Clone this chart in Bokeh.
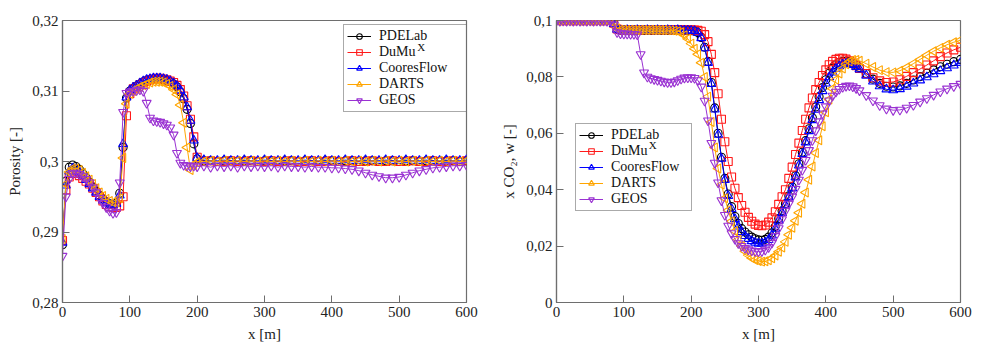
import math
from bokeh.plotting import figure
from bokeh.layouts import row
from bokeh.models import (Range1d, FixedTicker, CustomJSTickFormatter, Legend,
                          LegendItem, Label)
from bokeh.embed import file_html
from bokeh.resources import INLINE

# ---------------------------------------------------------------- data
# Porosity along the domain
X_POR = [0, 5, 10, 15, 20, 25, 30, 35, 40, 45, 50, 55, 60, 65, 70, 75, 80, 85, 90, 95,
         100, 105, 110, 115, 120, 125, 130, 135, 140, 145, 150, 155, 160, 165, 170, 175,
         180, 185, 190, 195, 200,
         210, 220, 230, 240, 250, 260, 270, 280, 290, 300, 310, 320, 330, 340, 350, 360,
         370, 380, 390, 400, 410, 420, 430, 440, 450, 460, 470, 480, 490, 500, 510, 520,
         530, 540, 550, 560, 570, 580, 590, 600]

POR_PDELAB = [0.2882, 0.2972, 0.2992, 0.2995, 0.2993, 0.2989, 0.2983, 0.2977, 0.2971, 0.2964,
              0.2958, 0.2952, 0.2947, 0.2943, 0.2940, 0.2939, 0.2941, 0.2955, 0.3020, 0.3090,
              0.3100, 0.3104, 0.3107, 0.3110, 0.3113, 0.3115, 0.3116, 0.3117, 0.3117, 0.3117,
              0.3116, 0.3115, 0.3113, 0.3110, 0.3106, 0.3099, 0.3089, 0.3074, 0.3054, 0.3025,
              0.3004,
              0.3001, 0.3001, 0.3000, 0.3001, 0.3001, 0.3000, 0.3001, 0.3001, 0.3000, 0.3001,
              0.3001, 0.3000, 0.3001, 0.3001, 0.3000, 0.3001, 0.3001, 0.3000, 0.3001, 0.3001,
              0.3000, 0.3001, 0.3001, 0.3000, 0.3001, 0.3001, 0.3000, 0.3001, 0.3001, 0.3000,
              0.3001, 0.3001, 0.3000, 0.3001, 0.3001, 0.3000, 0.3001, 0.3001, 0.3000, 0.3001]

POR_DUMUX = [0.2888, 0.2960, 0.2978, 0.2983, 0.2983, 0.2980, 0.2976, 0.2972, 0.2968, 0.2962,
             0.2956, 0.2950, 0.2944, 0.2939, 0.2936, 0.2935, 0.2935, 0.2937, 0.2950, 0.3065,
             0.3096, 0.3103, 0.3106, 0.3109, 0.3112, 0.3114, 0.3116, 0.3117, 0.3118, 0.3118,
             0.3117, 0.3116, 0.3114, 0.3112, 0.3108, 0.3102, 0.3093, 0.3079, 0.3060, 0.3035,
             0.3006,
             0.3000, 0.3001, 0.3000, 0.3000, 0.3001, 0.3000, 0.3000, 0.3001, 0.3000, 0.3000,
             0.3001, 0.3000, 0.3000, 0.3001, 0.3000, 0.3000, 0.3001, 0.3000, 0.3000, 0.3001,
             0.3000, 0.3000, 0.3001, 0.3000, 0.3000, 0.3001, 0.3000, 0.3000, 0.3001, 0.3000,
             0.3000, 0.3001, 0.3000, 0.3000, 0.3001, 0.3000, 0.3000, 0.3001, 0.3000, 0.3001]

POR_COORES = [0.2885, 0.2966, 0.2986, 0.2990, 0.2989, 0.2985, 0.2980, 0.2974, 0.2968, 0.2962,
              0.2956, 0.2950, 0.2945, 0.2941, 0.2939, 0.2938, 0.2940, 0.2952, 0.3025, 0.3091,
              0.3101, 0.3105, 0.3108, 0.3111, 0.3114, 0.3116, 0.3117, 0.3118, 0.3118, 0.3118,
              0.3117, 0.3116, 0.3114, 0.3111, 0.3107, 0.3101, 0.3091, 0.3077, 0.3058, 0.3030,
              0.3005,
              0.3002, 0.3001, 0.3001, 0.3002, 0.3001, 0.3001, 0.3002, 0.3001, 0.3001, 0.3002,
              0.3001, 0.3001, 0.3002, 0.3001, 0.3001, 0.3002, 0.3001, 0.3001, 0.3002, 0.3001,
              0.3001, 0.3002, 0.3001, 0.3001, 0.3002, 0.3001, 0.3001, 0.3002, 0.3001, 0.3001,
              0.3002, 0.3001, 0.3001, 0.3002, 0.3001, 0.3001, 0.3002, 0.3001, 0.3001, 0.3002]

POR_DARTS = [0.2890, 0.2968, 0.2985, 0.2990, 0.2990, 0.2988, 0.2984, 0.2979, 0.2974, 0.2968,
             0.2962, 0.2956, 0.2951, 0.2947, 0.2944, 0.2942, 0.2942, 0.2948, 0.3005, 0.3082,
             0.3096, 0.3100, 0.3103, 0.3106, 0.3108, 0.3110, 0.3112, 0.3113, 0.3113, 0.3113,
             0.3112, 0.3110, 0.3107, 0.3102, 0.3095, 0.3080, 0.3055, 0.3020, 0.2988, 0.2995,
             0.2999,
             0.3000, 0.3001, 0.3000, 0.3001, 0.3000, 0.3001, 0.3000, 0.3001, 0.3000, 0.3001,
             0.3000, 0.3001, 0.3000, 0.3001, 0.3000, 0.3001, 0.3000, 0.3001, 0.3000, 0.3001,
             0.3000, 0.3001, 0.3000, 0.3001, 0.3000, 0.3001, 0.3000, 0.3001, 0.3000, 0.3001,
             0.3000, 0.3001, 0.3000, 0.3001, 0.3000, 0.3001, 0.3000, 0.3001, 0.3000, 0.3001]

POR_GEOS = [0.2866, 0.2950, 0.2975, 0.2983, 0.2984, 0.2982, 0.2979, 0.2975, 0.2970, 0.2963,
            0.2956, 0.2948, 0.2941, 0.2935, 0.2930, 0.2927, 0.2928, 0.2970, 0.3070, 0.3097,
            0.3099, 0.3100, 0.3101, 0.3102, 0.3100, 0.3083, 0.3062, 0.3058, 0.3057, 0.3056,
            0.3054, 0.3052, 0.3048, 0.3038, 0.3012, 0.2998, 0.2995, 0.2994, 0.2993, 0.2994,
            0.2993,
            0.2994, 0.2992, 0.2994, 0.2993, 0.2994, 0.2992, 0.2994, 0.2993, 0.2994, 0.2993,
            0.2994, 0.2992, 0.2994, 0.2993, 0.2993, 0.2992, 0.2993, 0.2992, 0.2992, 0.2991,
            0.2991, 0.2990, 0.2989, 0.2987, 0.2984, 0.2981, 0.2979, 0.2977, 0.2977, 0.2978,
            0.2981, 0.2984, 0.2987, 0.2989, 0.2991, 0.2992, 0.2993, 0.2994, 0.2994, 0.2995]

# Dissolved CO2 mass fraction along the domain
X_CO2 = [0, 5, 10, 15, 20, 25, 30, 35, 40, 45, 50, 55, 60, 65, 70, 75, 80, 85, 90, 95,
         100, 105, 110, 115, 120, 125, 130, 135, 140, 145, 150, 155, 160, 165, 170, 175,
         180, 185, 190, 195, 200, 205, 210, 215, 220, 225, 230, 235, 240, 245, 250, 255,
         260, 265, 270, 275, 280, 285, 290, 295, 300, 305, 310, 315, 320, 325, 330, 335,
         340, 345, 350, 355, 360, 365, 370, 375, 380, 385, 390, 395, 400, 405, 410, 415,
         420, 425, 430, 435, 440, 445, 450,
         460, 470, 480, 490, 500, 510, 520, 530, 540, 550, 560, 570, 580, 590, 600]

CO2_PDELAB = [0.1000, 0.0999, 0.1000, 0.0999, 0.1000, 0.0999, 0.1000, 0.0999, 0.1000, 0.0999,
              0.1000, 0.0999, 0.1000, 0.0999, 0.1000, 0.0999, 0.1000, 0.0990, 0.0970, 0.0966,
              0.0966, 0.0965, 0.0966, 0.0965, 0.0966, 0.0966, 0.0965, 0.0966, 0.0965, 0.0966,
              0.0966, 0.0965, 0.0966, 0.0965, 0.0966, 0.0966, 0.0965, 0.0966, 0.0965, 0.0965,
              0.0964,
              0.0962, 0.0957, 0.0940, 0.0905, 0.0855, 0.0780, 0.0690, 0.0600, 0.0515, 0.0440,
              0.0385, 0.0340, 0.0305, 0.0280, 0.0262, 0.0250, 0.0240, 0.0232, 0.0226, 0.0222,
              0.0221, 0.0224, 0.0232, 0.0247, 0.0270, 0.0298, 0.0325, 0.0350, 0.0378, 0.0410,
              0.0450, 0.0492, 0.0533, 0.0574, 0.0616, 0.0655, 0.0693, 0.0730, 0.0762, 0.0790,
              0.0813, 0.0831, 0.0843, 0.0851, 0.0855, 0.0856, 0.0854, 0.0849, 0.0842, 0.0833,
              0.0812, 0.0792, 0.0777, 0.0767, 0.0764, 0.0768, 0.0777, 0.0789, 0.0801, 0.0813,
              0.0825, 0.0836, 0.0845, 0.0854, 0.0862]

CO2_DUMUX = [0.1000, 0.1000, 0.0999, 0.1000, 0.1000, 0.0999, 0.1000, 0.1000, 0.0999, 0.1000,
             0.1000, 0.0999, 0.1000, 0.1000, 0.0999, 0.1000, 0.1000, 0.0990, 0.0970, 0.0967,
             0.0967, 0.0968, 0.0967, 0.0967, 0.0968, 0.0967, 0.0967, 0.0968, 0.0967, 0.0967,
             0.0968, 0.0967, 0.0967, 0.0968, 0.0967, 0.0967, 0.0968, 0.0967, 0.0967, 0.0967,
             0.0967,
             0.0966, 0.0965, 0.0962, 0.0950, 0.0925, 0.0880, 0.0815, 0.0740, 0.0650, 0.0570,
             0.0500, 0.0445, 0.0405, 0.0372, 0.0344, 0.0320, 0.0302, 0.0288, 0.0278, 0.0273,
             0.0272, 0.0275, 0.0285, 0.0300, 0.0322, 0.0348, 0.0375, 0.0400, 0.0440, 0.0480,
             0.0525, 0.0565, 0.0610, 0.0650, 0.0690, 0.0725, 0.0755, 0.0780, 0.0805, 0.0825,
             0.0843, 0.0855, 0.0862, 0.0866, 0.0866, 0.0863, 0.0857, 0.0849, 0.0840, 0.0830,
             0.0812, 0.0797, 0.0786, 0.0780, 0.0782, 0.0790, 0.0802, 0.0815, 0.0828, 0.0842,
             0.0857, 0.0872, 0.0885, 0.0896, 0.0905]

CO2_COORES = [0.1000, 0.1000, 0.1000, 0.0999, 0.1000, 0.1000, 0.1000, 0.0999, 0.1000, 0.1000,
              0.1000, 0.0999, 0.1000, 0.1000, 0.1000, 0.0999, 0.1000, 0.0988, 0.0968, 0.0965,
              0.0965, 0.0966, 0.0965, 0.0965, 0.0966, 0.0965, 0.0965, 0.0966, 0.0965, 0.0965,
              0.0966, 0.0965, 0.0965, 0.0966, 0.0965, 0.0965, 0.0966, 0.0965, 0.0965, 0.0965,
              0.0964,
              0.0963, 0.0957, 0.0938, 0.0902, 0.0850, 0.0775, 0.0685, 0.0595, 0.0510, 0.0435,
              0.0378, 0.0332, 0.0296, 0.0270, 0.0250, 0.0236, 0.0226, 0.0218, 0.0212, 0.0209,
              0.0209, 0.0213, 0.0222, 0.0238, 0.0262, 0.0290, 0.0318, 0.0345, 0.0373, 0.0405,
              0.0444, 0.0486, 0.0527, 0.0568, 0.0608, 0.0647, 0.0684, 0.0718, 0.0750, 0.0777,
              0.0799, 0.0816, 0.0829, 0.0838, 0.0844, 0.0847, 0.0847, 0.0843, 0.0836, 0.0827,
              0.0805, 0.0784, 0.0767, 0.0756, 0.0753, 0.0757, 0.0766, 0.0777, 0.0788, 0.0799,
              0.0810, 0.0821, 0.0831, 0.0841, 0.0850]

CO2_DARTS = [0.1000, 0.0999, 0.1000, 0.1000, 0.0999, 0.1000, 0.1000, 0.0999, 0.1000, 0.1000,
             0.0999, 0.1000, 0.1000, 0.0999, 0.1000, 0.1000, 0.0999, 0.0992, 0.0972, 0.0967,
             0.0967, 0.0966, 0.0967, 0.0966, 0.0966, 0.0967, 0.0966, 0.0966, 0.0967, 0.0966,
             0.0966, 0.0966, 0.0966, 0.0965, 0.0965, 0.0964, 0.0962, 0.0958, 0.0948, 0.0935,
             0.0918,
             0.0900, 0.0880, 0.0850, 0.0800, 0.0730, 0.0640, 0.0550, 0.0475, 0.0418, 0.0370,
             0.0327, 0.0288, 0.0253, 0.0223, 0.0200, 0.0182, 0.0168, 0.0158, 0.0151, 0.0147,
             0.0145, 0.0146, 0.0150, 0.0157, 0.0167, 0.0180, 0.0195, 0.0215, 0.0240, 0.0265,
             0.0290, 0.0318, 0.0350, 0.0390, 0.0435, 0.0482, 0.0530, 0.0575, 0.0625, 0.0675,
             0.0720, 0.0758, 0.0790, 0.0812, 0.0830, 0.0845, 0.0855, 0.0860, 0.0860, 0.0857,
             0.0847, 0.0835, 0.0824, 0.0817, 0.0816, 0.0822, 0.0833, 0.0847, 0.0862, 0.0877,
             0.0891, 0.0903, 0.0914, 0.0923, 0.0930]

CO2_GEOS = [0.0999, 0.0998, 0.0999, 0.0998, 0.0999, 0.0998, 0.0999, 0.0998, 0.0999, 0.0998,
            0.0999, 0.0998, 0.0999, 0.0998, 0.0999, 0.0998, 0.0998, 0.0985, 0.0958, 0.0954,
            0.0953, 0.0953, 0.0952, 0.0952, 0.0950, 0.0880, 0.0815, 0.0800, 0.0795, 0.0792,
            0.0789, 0.0786, 0.0783, 0.0781, 0.0781, 0.0783, 0.0788, 0.0793, 0.0797, 0.0798,
            0.0798,
            0.0796, 0.0788, 0.0765, 0.0715, 0.0645, 0.0565, 0.0495, 0.0425, 0.0362, 0.0310,
            0.0272, 0.0245, 0.0225, 0.0210, 0.0200, 0.0193, 0.0188, 0.0184, 0.0182, 0.0181,
            0.0182, 0.0187, 0.0196, 0.0212, 0.0235, 0.0263, 0.0295, 0.0325, 0.0350, 0.0375,
            0.0402, 0.0435, 0.0470, 0.0505, 0.0540, 0.0575, 0.0610, 0.0642, 0.0670, 0.0695,
            0.0716, 0.0733, 0.0747, 0.0757, 0.0764, 0.0768, 0.0769, 0.0766, 0.0760, 0.0752,
            0.0735, 0.0716, 0.0699, 0.0687, 0.0682, 0.0683, 0.0690, 0.0700, 0.0712, 0.0724,
            0.0736, 0.0748, 0.0758, 0.0767, 0.0775]

POR_TICKS = [0.28, 0.29, 0.30, 0.31, 0.32]
CO2_TICKS = [0.0, 0.02, 0.04, 0.06, 0.08, 0.1]
X_TICKS = [0, 100, 200, 300, 400, 500, 600]

SERIES = ["PDELab", "DuMu", "CooresFlow", "DARTS", "GEOS"]

for arr in (POR_PDELAB, POR_DUMUX, POR_COORES, POR_DARTS, POR_GEOS):
    assert len(arr) == len(X_POR), len(arr)
for arr in (CO2_PDELAB, CO2_DUMUX, CO2_COORES, CO2_DARTS, CO2_GEOS):
    assert len(arr) == len(X_CO2), len(arr)

# ---------------------------------------------------------------- style
FONT = "Liberation Serif"
FRAME = "#6e6e6e"
STYLES = {
    "PDELab":     dict(color="#000000", marker="circle", size=8, angle=0.0),
    "DuMu":       dict(color="#ff1a1a", marker="square", size=8, angle=0.0),
    "CooresFlow": dict(color="#0000ff", marker="triangle", size=9, angle=0.0),
    "DARTS":      dict(color="#ffa500", marker="triangle", size=9, angle=math.pi / 2),
    "GEOS":       dict(color="#9a32d2", marker="inverted_triangle", size=9, angle=0.0),
}


def make_panel(x, series, y_range, yticks, ylabel, left_border, right_border):
    p = figure(width=492, height=344, output_backend="svg", toolbar_location=None,
               x_range=Range1d(0, 600), y_range=Range1d(*y_range),
               min_border_left=left_border, min_border_right=right_border,
               min_border_top=20, min_border_bottom=41,
               background_fill_color="white", border_fill_color="white")
    p.outline_line_color = FRAME
    p.outline_line_width = 1.2
    p.xgrid.visible = False
    p.ygrid.visible = False

    p.xaxis.ticker = FixedTicker(ticks=X_TICKS)
    p.yaxis.ticker = FixedTicker(ticks=yticks)
    p.yaxis.formatter = CustomJSTickFormatter(
        code="return String(Math.round(tick * 1000) / 1000).replace('.', ',');")
    for ax in (p.xaxis[0], p.yaxis[0]):
        ax.axis_line_color = FRAME
        ax.axis_line_width = 1.2
        ax.major_tick_line_color = FRAME
        ax.major_tick_in = 7
        ax.major_tick_out = 0
        ax.minor_tick_line_color = None
        ax.major_label_text_font = FONT
        ax.major_label_text_font_size = "15px"
        ax.major_label_text_color = "#222222"
        ax.axis_label_text_font = FONT
        ax.axis_label_text_font_size = "15px"
        ax.axis_label_text_font_style = "normal"
        ax.axis_label_text_color = "#222222"
        ax.major_label_standoff = 4
        ax.axis_label_standoff = 6
    p.xaxis.axis_label = "x [m]"
    p.yaxis.axis_label = ylabel

    items = []
    for name, y in zip(SERIES, series):
        st = STYLES[name]
        ln = p.line(x, y, line_color=st["color"], line_width=1.0)
        sc = p.scatter(x, y, marker=st["marker"], size=st["size"], angle=st["angle"],
                       line_color=st["color"], line_width=1.1, fill_color=None)
        items.append(LegendItem(label=name, renderers=[ln, sc]))
    return p, items


def add_legend(p, items, loc, label_width, sup_x, sup_y):
    # raised "X" after the DuMu entry; the legend box is left unfilled so it shows
    p.add_layout(Label(x=sup_x, y=sup_y, text="X", text_font=FONT, text_font_size="11px",
                       text_color="#111111", text_baseline="bottom"))
    leg = Legend(items=items, location=loc, orientation="vertical",
                 label_text_font=FONT, label_text_font_size="14px",
                 label_text_color="#111111",
                 glyph_width=24, glyph_height=14, label_height=14, label_width=label_width,
                 label_standoff=8, spacing=0, padding=3, margin=0,
                 border_line_color="#555555", border_line_width=1.2,
                 background_fill_alpha=0.0)
    p.add_layout(leg, "center")


# ---------------------------------------------------------------- panels
p1, items1 = make_panel(X_POR, [POR_PDELAB, POR_DUMUX, POR_COORES, POR_DARTS, POR_GEOS],
                        (0.28, 0.32), POR_TICKS, "Porosity [-]", 62, 26)
add_legend(p1, items1, (281, 190), 84, 527, 0.31535)

p2, items2 = make_panel(X_CO2, [CO2_PDELAB, CO2_DUMUX, CO2_COORES, CO2_DARTS, CO2_GEOS],
                        (0.0, 0.1), CO2_TICKS, "x CO\u2082, w [-]", 64, 24)
add_legend(p2, items2, (19, 91), 77, 137, 0.0536)

layout = row(p1, p2)
open("out.html", "w").write(file_html(layout, INLINE))
